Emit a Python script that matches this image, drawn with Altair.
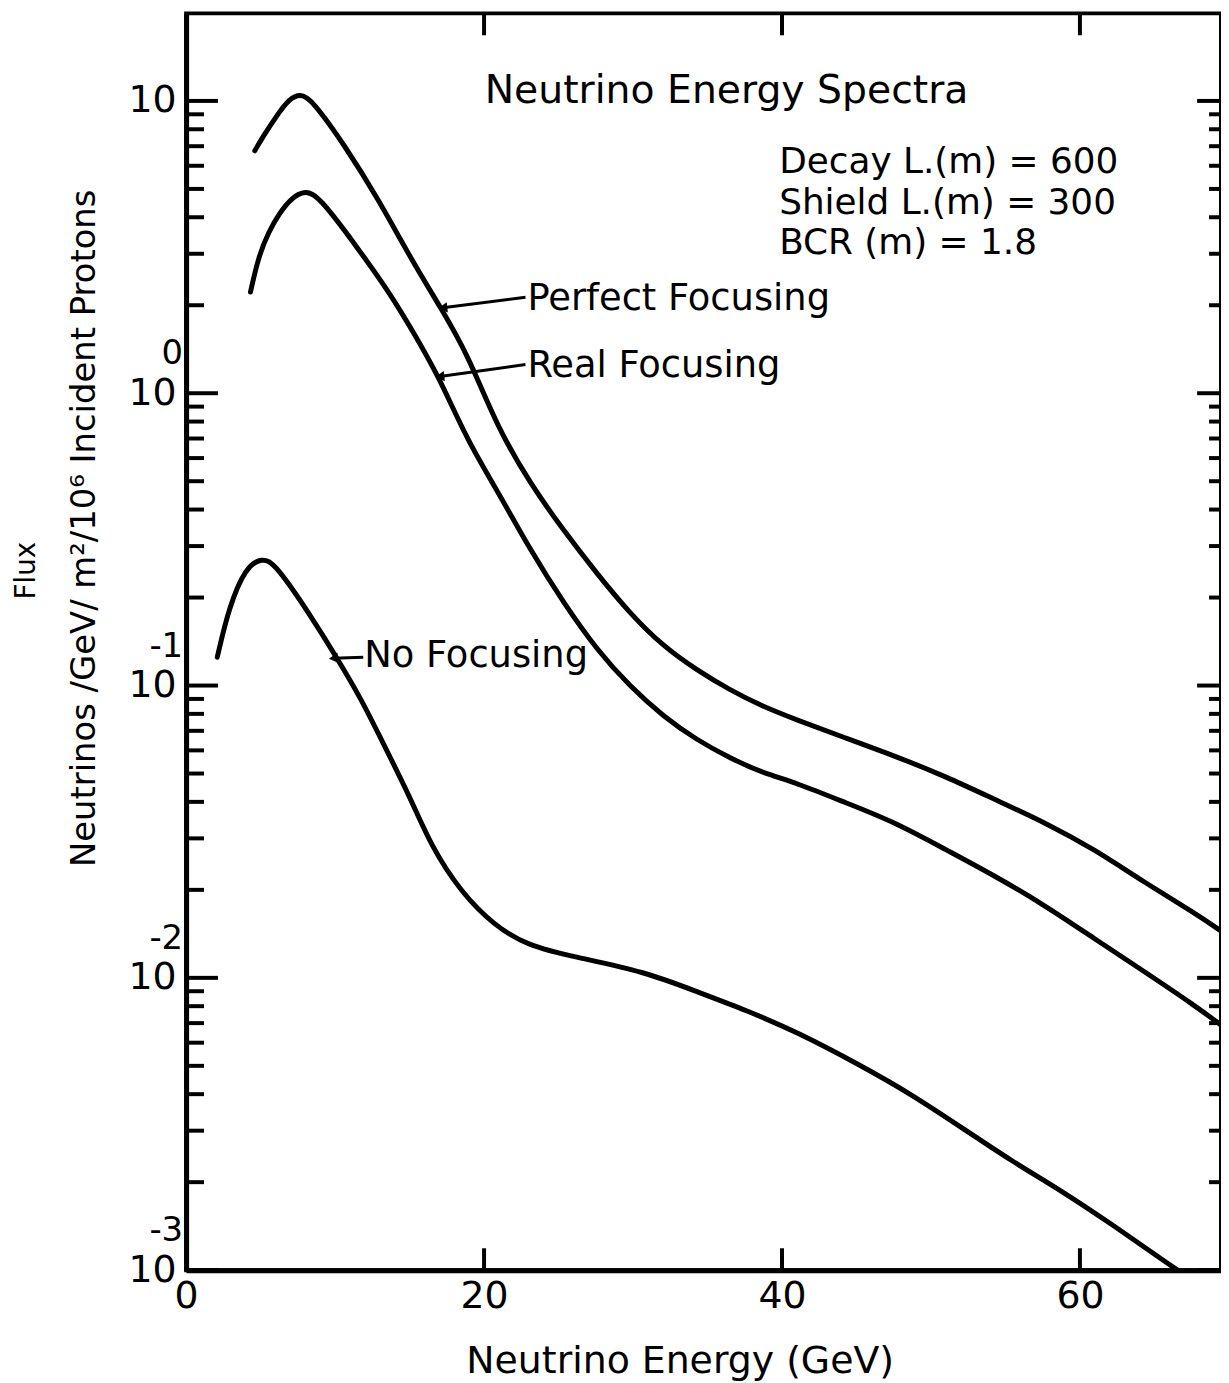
import altair as alt
import pandas as pd

# ---------------- data ----------------
perfect_E = [4.61, 5.10, 6.21, 6.88, 7.66, 8.44, 10.67, 12.89, 15.10, 17.12, 18.90,
             20.91, 23.13, 25.36, 27.59, 29.81, 32.04, 34.27, 36.49, 38.72, 40.95, 44.29,
             47.63, 50.97, 54.31, 57.65, 60.99, 64.33, 67.67, 69.61]
perfect_flux = [6.75, 7.48, 9.10, 10.1, 10.6, 10.1, 7.02, 4.62, 2.88, 1.95, 1.36,
                0.760, 0.488, 0.338, 0.241, 0.176, 0.136, 0.113, 0.0966, 0.0847, 0.0764, 0.0661,
                0.0573, 0.0489, 0.0407, 0.0340, 0.0275, 0.0212, 0.0167, 0.0143]

real_E = [4.32, 4.88, 5.54, 6.21, 7.10, 8.00, 8.88, 11.56, 13.78, 15.12, 16.90, 18.90,
          20.91, 23.13, 25.36, 27.59, 29.81, 32.04, 34.27, 36.49, 38.72, 40.95, 44.29,
          47.63, 50.97, 54.31, 57.65, 60.99, 64.33, 67.67, 69.61]
real_flux = [2.22, 2.96, 3.56, 4.10, 4.68, 4.93, 4.75, 3.12, 2.16, 1.66, 1.16, 0.685,
             0.463, 0.289, 0.191, 0.132, 0.0991, 0.0783, 0.0652, 0.0565, 0.0502, 0.0465, 0.0397,
             0.0340, 0.0275, 0.0223, 0.0177, 0.0136, 0.0105, 0.00807, 0.00681]

none_E = [2.09, 2.87, 3.99, 5.10, 5.99, 8.44, 10.22, 11.78, 12.89, 15.12, 16.45, 18.46,
          20.69, 22.91, 26.03, 30.80, 34.27, 37.61, 40.95, 45.40, 48.74, 52.08, 55.42,
          58.76, 62.10, 66.55]
none_flux = [0.125, 0.185, 0.254, 0.274, 0.261, 0.171, 0.122, 0.0893, 0.0687, 0.0407, 0.0282,
             0.0196, 0.0151, 0.0129, 0.0118, 0.0105, 0.00897, 0.00774, 0.00655, 0.00498,
             0.00398, 0.00307, 0.00236, 0.00187, 0.00144, 0.00100]

x_tick_values = [0, 20, 40, 60]
y_major_values = [0.001, 0.01, 0.1, 1, 10]
y_exponent_values = [1, 0.1, 0.01, 0.001]
y_exponent_labels = ["0", "-1", "-2", "-3"]
minor_multipliers = [2, 3, 4, 5, 6, 7, 8, 9]
inner_tick_E = [20, 40, 60]

title_text = ["Neutrino Energy Spectra"]
param_lines = ["Decay L.(m) = 600", "Shield L.(m) = 300", "BCR (m) = 1.8"]
curve_labels = ["Perfect Focusing", "Real  Focusing", "No Focusing"]
y_title = "Neutrinos /GeV/ m\u00b2/10\u2076 Incident Protons"
x_title = "Neutrino  Energy (GeV)"

# annotation anchors (in data units: GeV, flux)
title_anchor = {"E": [20.04], "flux": [9.84]}
param_anchor = {"E": [39.81, 39.81, 39.81], "flux": [5.69, 4.09, 2.99]}
label_anchor = {"E": [22.91, 22.91, 11.96], "flux": [1.93, 1.14, 0.1156]}
arrow_start = {"E": [22.78, 22.78, 11.89], "flux": [2.13, 1.253, 0.125]}
arrow_end = {"E": [17.23, 17.03, 9.89], "flux": [1.96, 1.14, 0.124]}

# ---------------- layout ----------------
W, H = 1040, 1263
XMAX = 69.47
YMIN, YMAX = 0.001, 19.93
FONT = "DejaVu Sans"

curves = pd.concat([
    pd.DataFrame({"E": perfect_E, "flux": perfect_flux, "series": "Perfect Focusing"}),
    pd.DataFrame({"E": real_E, "flux": real_flux, "series": "Real Focusing"}),
    pd.DataFrame({"E": none_E, "flux": none_flux, "series": "No Focusing"}),
])

xs = alt.Scale(domain=[0, XMAX], nice=False, zero=False)
ys = alt.Scale(type="log", domain=[YMIN, YMAX], nice=False)

X_AXIS = alt.Axis(
    values=x_tick_values, format="d", ticks=False, grid=False,
    labelFont=FONT, labelFontSize=38, labelColor="black", labelPadding=8,
    labelFlush=False, domainColor="black", domainWidth=5,
    title=x_title, titleFont=FONT, titleFontSize=38, titleFontWeight="normal",
    titleColor="black", titlePadding=27, titleX=496)
Y_AXIS = alt.Axis(
    values=y_major_values, labelExpr="'10'", ticks=False, grid=False,
    labelFont=FONT, labelFontSize=38, labelColor="black", labelPadding=10,
    labelFlush=False, labelOverlap=False, domainColor="black", domainWidth=5,
    title=y_title, titleFont=FONT, titleFontSize=34, titleFontWeight="normal",
    titleColor="black", titleX=-85, titleY=517, titleAngle=270,
    titleBaseline="bottom", titleAlign="center")

lines = alt.Chart(curves).mark_line(
    color="black", strokeWidth=5, interpolate="basis", clip=True, strokeCap="round"
).encode(
    x=alt.X("E:Q", scale=xs, axis=X_AXIS),
    y=alt.Y("flux:Q", scale=ys, axis=Y_AXIS),
    detail="series:N",
)

major_df = pd.DataFrame({"flux": y_major_values})
minor_df = pd.DataFrame({"flux": [m * d for d in y_major_values for m in minor_multipliers
                                  if m * d < YMAX]})
inner_df = pd.DataFrame({"E": inner_tick_E})


def yrule(df, x0, x1):
    return alt.Chart(df).mark_rule(color="black", strokeWidth=4).encode(
        y=alt.Y("flux:Q", scale=ys), x=alt.value(x0), x2=alt.value(x1))


def xrule(y0, y1):
    return alt.Chart(inner_df).mark_rule(color="black", strokeWidth=4).encode(
        x=alt.X("E:Q", scale=xs), y=alt.value(y0), y2=alt.value(y1))


ticks = [
    yrule(major_df, 0, 32), yrule(minor_df, 0, 18),
    yrule(major_df, W - 24, W), yrule(minor_df, W - 12, W),
    xrule(H - 22, H), xrule(0, 22),
]

exp_df = pd.DataFrame({"flux": y_exponent_values, "t": y_exponent_labels})
exponents = alt.Chart(exp_df).mark_text(
    font=FONT, fontSize=34, color="black", align="right", baseline="alphabetic", dy=-29
).encode(y=alt.Y("flux:Q", scale=ys), x=alt.value(-3), text="t:N")

flux_lbl = alt.Chart(pd.DataFrame({"t": ["Flux"]})).mark_text(
    font=FONT, fontSize=28, color="black", angle=270, align="center", baseline="middle"
).encode(text="t:N", x=alt.value(-160), y=alt.value(560))


def text_layer(anchor, texts, size):
    df = pd.DataFrame({"E": anchor["E"], "flux": anchor["flux"], "t": texts})
    return alt.Chart(df).mark_text(
        font=FONT, fontSize=size, color="black", align="left", baseline="alphabetic"
    ).encode(x=alt.X("E:Q", scale=xs), y=alt.Y("flux:Q", scale=ys), text="t:N")


title_l = text_layer(title_anchor, title_text, 39.5)
params_l = text_layer(param_anchor, param_lines, 36)
labels_l = text_layer(label_anchor, curve_labels, 37)

arrow_df = pd.concat([
    pd.DataFrame({"E": arrow_start["E"], "flux": arrow_start["flux"], "a": [0, 1, 2]}),
    pd.DataFrame({"E": arrow_end["E"], "flux": arrow_end["flux"], "a": [0, 1, 2]}),
])
arrows = alt.Chart(arrow_df).mark_line(color="black", strokeWidth=3).encode(
    x=alt.X("E:Q", scale=xs), y=alt.Y("flux:Q", scale=ys), detail="a:N")
heads = alt.Chart(pd.DataFrame(arrow_end)).mark_point(
    shape="triangle-left", filled=True, color="black", size=110, angle=354, opacity=1
).encode(x=alt.X("E:Q", scale=xs), y=alt.Y("flux:Q", scale=ys))

chart = alt.layer(
    lines, *ticks, exponents, flux_lbl, title_l, params_l, labels_l, arrows, heads
).properties(
    width=W, height=H,
    autosize=alt.AutoSizeParams(type="none"),
    padding={"left": 179, "top": 2, "right": 0, "bottom": 110},
).configure(background="white").configure_view(stroke="black", strokeWidth=4)

chart.save("out.html", embed_options={"renderer": "svg", "actions": False})
